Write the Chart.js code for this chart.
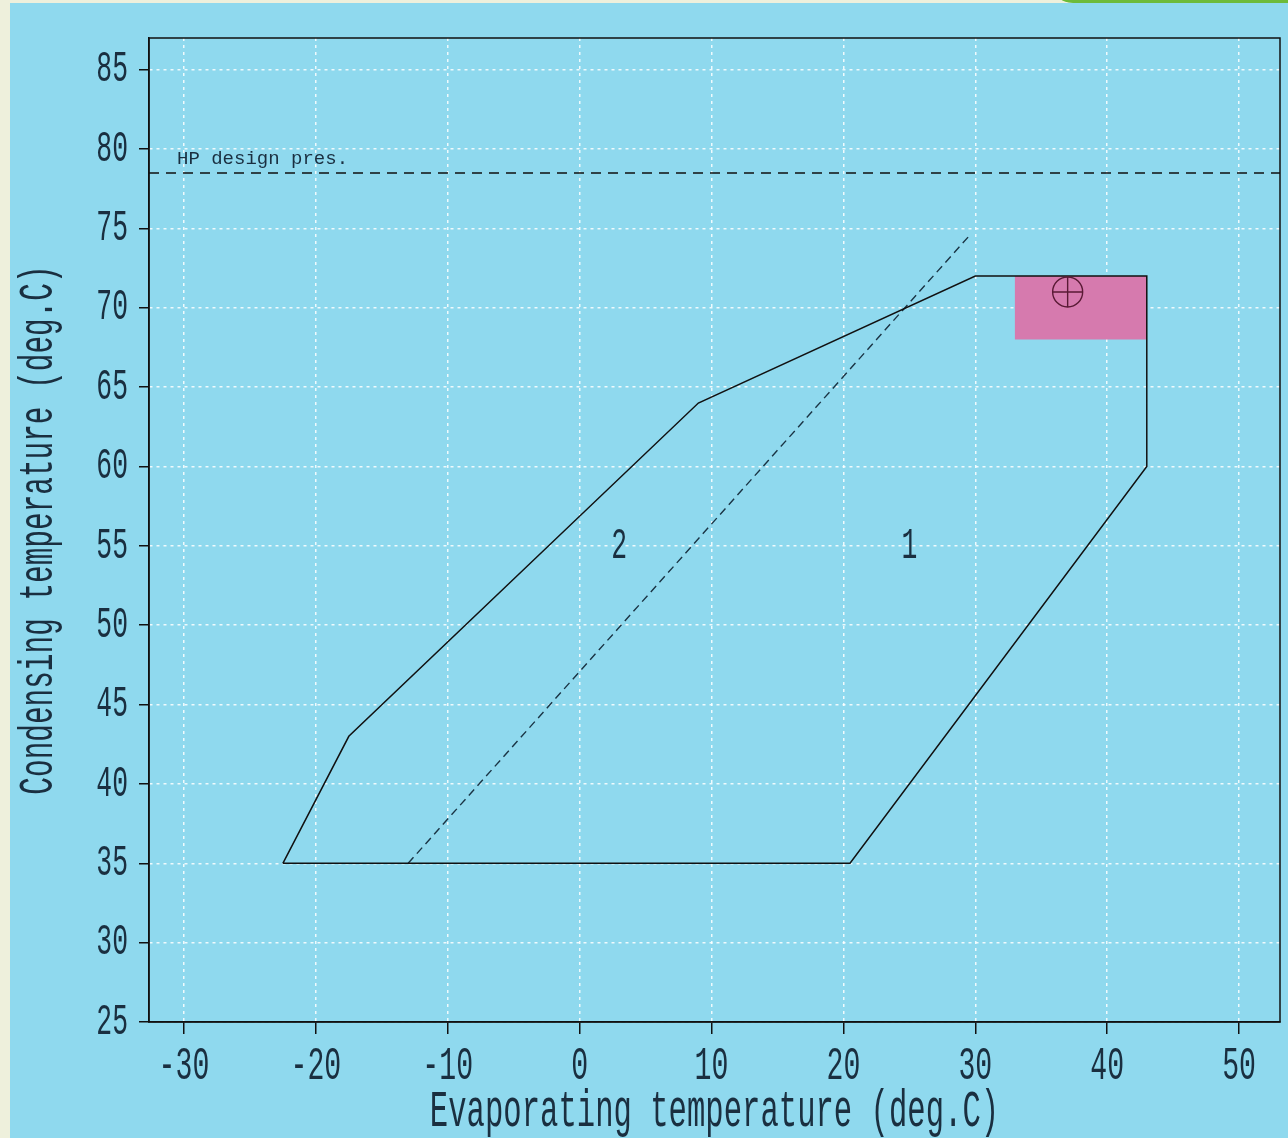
<!DOCTYPE html>
<html><head><meta charset="utf-8">
<script src="https://cdn.jsdelivr.net/npm/chart.js@4/dist/chart.umd.min.js"></script>
<style>
html,body{margin:0;padding:0;background:#eef0dc;width:1288px;height:1138px;overflow:hidden}
#panel{position:absolute;left:10px;top:3px;width:1278px;height:1135px;background:#8fd9ee}
#tab{position:absolute;left:1050px;top:-20px;width:260px;height:23px;background:#6dbb3a;border-radius:0 0 0 24px}
#wrap{position:absolute;left:0;top:0;width:1288px;height:1138px}
</style></head><body>
<div id="panel"></div><div id="tab"></div>
<div id="wrap"><canvas id="c" width="1288" height="1138"></canvas></div>
<script>
// ---- data ----
const xTicks = [-30, -20, -10, 0, 10, 20, 30, 40, 50];
const yTicks = [25, 30, 35, 40, 45, 50, 55, 60, 65, 70, 75, 80, 85];
const xRange = [-32.65, 53.1];
const yRange = [25, 87];
const envelopeX = [-22.5, 20.5, 43, 43, 30, 9, -17.5, -22.5];
const envelopeY = [35, 35, 60, 72, 72, 64, 43, 35];
const dividerX = [-13, 29.5];
const dividerY = [35, 74.5];
const hpDesignPres = 78.5;
const hpLabel = 'HP design pres.';
const boxX = [33, 43, 43, 33, 33];
const boxY = [68, 68, 72, 72, 68];
const designPointX = [37];
const designPointY = [71];
const regionText = ['2', '1'];
const regionX = [3, 25];
const regionY = [55, 55];
const xTitle = 'Evaporating temperature (deg.C)';
const yTitle = 'Condensing temperature (deg.C)';

// ---- styling ----
const TXT = '#1a2f40';
const LINE = '#111111';
const FONT = "'Liberation Mono', monospace";
const SQUEEZE = 0.6;

// condensed rendering of the plot-style font
const _fill = CanvasRenderingContext2D.prototype.fillText;
CanvasRenderingContext2D.prototype.fillText = function (t, x, y, mw) {
  if (!this.__plain && this.font.indexOf('Liberation Mono') >= 0) {
    this.save(); this.translate(x, y); this.scale(SQUEEZE, 1);
    _fill.call(this, t, 0, 0); this.restore();
  } else if (mw === undefined) _fill.call(this, t, x, y);
  else _fill.call(this, t, x, y, mw);
};

const pts = (xs, ys) => xs.map((x, i) => ({x, y: ys[i]}));

const overlay = {
  id: 'overlay',
  afterDatasetsDraw(chart) {
    const {ctx, chartArea: a, scales: {x, y}} = chart;
    ctx.save();
    ctx.strokeStyle = LINE; ctx.lineWidth = 1.5;
    ctx.strokeRect(a.left, a.top, a.right - a.left, a.bottom - a.top);
    ctx.fillStyle = TXT; ctx.font = '44px ' + FONT;
    ctx.textAlign = 'center'; ctx.textBaseline = 'middle';
    regionText.forEach((t, i) => ctx.fillText(t, x.getPixelForValue(regionX[i]), y.getPixelForValue(regionY[i])));
    ctx.__plain = true;
    ctx.font = '19px ' + FONT; ctx.textAlign = 'left'; ctx.textBaseline = 'alphabetic';
    ctx.fillText(hpLabel, x.getPixelForValue(xRange[0]) + 28, y.getPixelForValue(hpDesignPres) - 9);
    ctx.__plain = false;
    ctx.restore();
  }
};

new Chart(document.getElementById('c'), {
  type: 'scatter',
  data: {
    datasets: [
      {data: pts(designPointX, designPointY), pointStyle: 'cross', pointRadius: 15, borderColor: '#5a1a35', borderWidth: 1.4, showLine: false},
      {data: pts(designPointX, designPointY), pointStyle: 'circle', pointRadius: 15, borderColor: '#5a1a35', backgroundColor: 'rgba(0,0,0,0)', borderWidth: 1.4, showLine: false},
      {data: pts(envelopeX, envelopeY), showLine: true, borderColor: LINE, borderWidth: 1.5, pointRadius: 0, fill: false, tension: 0},
      {data: pts(dividerX, dividerY), showLine: true, borderColor: '#1a3444', borderWidth: 1.4, borderDash: [8, 5], pointRadius: 0, fill: false},
      {data: pts(xRange, [hpDesignPres, hpDesignPres]), showLine: true, borderColor: LINE, borderWidth: 1.5, borderDash: [10, 7], pointRadius: 0, fill: false},
      {data: pts(boxX, boxY), showLine: true, borderWidth: 0, borderColor: 'rgba(0,0,0,0)', backgroundColor: '#d67aae', fill: 'shape', pointRadius: 0}
    ]
  },
  options: {
    responsive: false,
    animation: false,
    events: [],
    layout: {autoPadding: false, padding: {top: 38, right: 8, left: 0, bottom: 0}},
    plugins: {legend: {display: false}, tooltip: {enabled: false}},
    scales: {
      x: {
        type: 'linear', position: 'bottom', min: xRange[0], max: xRange[1],
        afterBuildTicks: s => { s.ticks = xTicks.map(v => ({value: v})); },
        afterFit: s => { s.height = 116; s.paddingLeft = 0; s.paddingRight = 0; },
        ticks: {font: {family: FONT, size: 47}, color: TXT, padding: 4, maxRotation: 0, autoSkip: false, callback: v => String(v)},
        grid: {color: 'rgba(255,255,255,0.85)', lineWidth: 1.5, tickColor: LINE, tickLength: 12, tickWidth: 1.5},
        border: {display: true, color: LINE, width: 1.5, dash: [3, 4]},
        title: {display: true, text: xTitle, color: TXT, font: {family: FONT, size: 51, lineHeight: 1}, padding: {top: 0, bottom: 0}}
      },
      y: {
        type: 'linear', position: 'left', min: yRange[0], max: yRange[1],
        afterBuildTicks: s => { s.ticks = yTicks.map(v => ({value: v})); },
        afterFit: s => { s.width = 149; s.paddingTop = 0; s.paddingBottom = 0; },
        ticks: {font: {family: FONT, size: 44}, color: TXT, padding: 11, autoSkip: false, callback: v => String(v)},
        grid: {color: 'rgba(255,255,255,0.85)', lineWidth: 1.5, tickColor: LINE, tickLength: 10, tickWidth: 1.5},
        border: {display: true, color: LINE, width: 1.5, dash: [3, 4]},
        title: {display: true, text: yTitle, color: TXT, font: {family: FONT, size: 49, lineHeight: 1}, padding: {top: 15, bottom: 0}}
      }
    }
  },
  plugins: [overlay]
});
</script>
</body></html>
